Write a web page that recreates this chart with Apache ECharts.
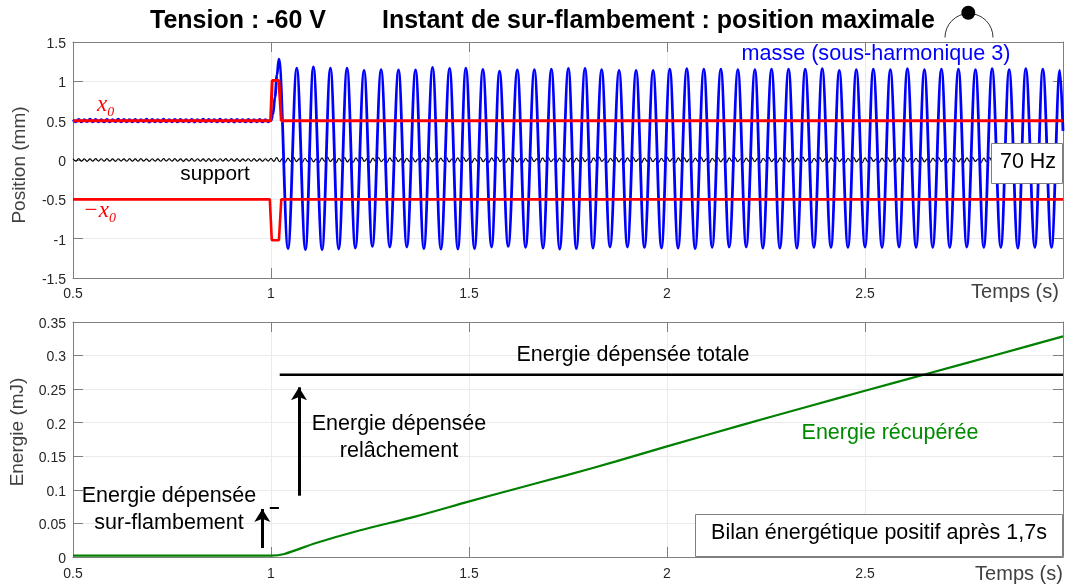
<!DOCTYPE html>
<html>
<head>
<meta charset="utf-8">
<style>html,body{margin:0;padding:0;background:#fff}#c{width:1065px;height:587px}</style>
<script src="https://cdn.jsdelivr.net/npm/echarts@6/dist/echarts.min.js"></script>
</head>
<body>
<div id="c"></div>
<script>
// ---- Tick ranges
const timeTicks = {min: 0.5, max: 3, interval: 0.5};
const posTicks = {min: -1.5, max: 1.5, interval: 0.5};
const energyTicks = {min: 0, max: 0.35, interval: 0.05};

// ---- Mass position : small ripple before the release
const rippleStart = 0.5, rippleStep = 1 / 140;
const rippleValues = [
 .512,.486,.516,.484,.514,.487,.518,.484,.515,.486,.513,.485,.517,.484,.514,.487,.519,.484,.515,.486,
 .512,.485,.516,.484,.514,.487,.518,.483,.515,.486,.513,.485,.519,.484,.514,.486,.517,.484,.515,.487,
 .512,.485,.516,.483,.514,.486,.518,.484,.515,.487,.513,.485,.519,.484,.514,.486,.516,.483,.515,.487,
 .512,.485,.517,.484,.514,.486,.516,.484,.513,.486];

// ---- Mass position : extrema after the release (time, value)
const peakTimes = [1.020,1.065,1.107,1.150,1.192,1.235,1.278,1.322,1.365,1.408,1.451,1.492,1.535,1.577,1.622,
 1.665,1.708,1.751,1.793,1.835,1.879,1.922,1.965,2.007,2.050,2.093,2.136,2.179,2.222,2.264,2.307,
 2.349,2.392,2.435,2.478,2.521,2.564,2.607,2.650,2.693,2.736,2.779,2.821,2.864,2.906,2.949,2.992];
const peakValues = [1.283,1.169,1.182,1.169,1.169,1.139,1.148,1.144,1.144,1.177,1.165,1.169,1.152,1.131,1.144,
 1.148,1.156,1.165,1.165,1.148,1.139,1.139,1.139,1.156,1.160,1.156,1.156,1.148,1.148,1.156,1.156,
 1.156,1.160,1.139,1.148,1.156,1.148,1.160,1.148,1.156,1.156,1.148,1.160,1.148,1.160,1.156,1.139];
const troughTimes = [1.043,1.087,1.129,1.171,1.213,1.256,1.300,1.343,1.386,1.429,1.472,1.514,1.557,1.599,1.643,
 1.687,1.729,1.771,1.813,1.856,1.900,1.943,1.986,2.028,2.071,2.114,2.157,2.200,2.242,2.285,2.328,
 2.371,2.414,2.457,2.500,2.543,2.586,2.629,2.671,2.714,2.757,2.800,2.843,2.886,2.929,2.971];
const troughValues = [-1.127,-1.140,-1.140,-1.132,-1.119,-1.098,-1.106,-1.106,-1.127,-1.132,-1.132,-1.127,-1.106,-1.098,-1.111,
 -1.119,-1.132,-1.127,-1.119,-1.106,-1.106,-1.111,-1.119,-1.119,-1.127,-1.111,-1.106,-1.106,-1.119,-1.119,-1.119,
 -1.111,-1.111,-1.111,-1.106,-1.111,-1.106,-1.111,-1.111,-1.111,-1.106,-1.111,-1.111,-1.119,-1.111,-1.111];
const riseTimes = [1.000,1.005,1.010,1.015];
const riseValues = [0.50,0.58,0.80,1.08];
const endTime = 3.0, endValue = 0.37;

// ---- Support position
const supportStep = 1 / 140;
const supportValues = [
 .016,-.014,.018,-.016,.015,-.017,.014,-.015,.017,-.014,.016,-.016,.018,-.015,.014,-.017,.016,-.014,.015,-.016,
 .017,-.015,.014,-.016,.018,-.014,.015,-.017,.016,-.015,.014,-.016,.017,-.014,.016,-.015,.018,-.016,.014,-.017,
 .015,-.014,.017,-.016,.016,-.015,.014,-.017,.018,-.014,.015,-.016,.016,-.015,.017,-.014,.014,-.016,.018,-.017,
 .015,-.014,.016,-.016,.017,-.015,.014,-.017,.016,-.015,
 .020,-.018,.030,-.022,.018,-.030,.024,-.018,.034,-.020,.018,-.032,.022,-.020,.032,-.024,.016,-.030,.026,-.018,
 .034,-.020,.018,-.034,.022,-.018,.030,-.024,.016,-.030,.026,-.020,.034,-.018,.020,-.034,.024,-.018,.030,-.022,
 .016,-.032,.026,-.018,.034,-.020,.018,-.034,.022,-.020,.032,-.024,.016,-.030,.024,-.018,.036,-.022,.018,-.032,
 .024,-.018,.030,-.024,.016,-.034,.026,-.020,.034,-.018,.020,-.034,.022,-.018,.032,-.022,.018,-.030,.026,-.018,
 .036,-.020,.016,-.032,.024,-.020,.030,-.024,.018,-.032,.022,-.018,.034,-.020,.018,-.034,.026,-.020,.030,-.022,
 .016,-.030,.024,-.018,.034,-.022,.020,-.032,.024,-.018,.032,-.022,.016,-.034,.026,-.020,.036,-.018,.018,-.032,
 .022,-.018,.030,-.024,.018,-.030,.026,-.020,.034,-.020,.016,-.034,.024,-.018,.032,-.022,.018,-.032,.022,-.020,
 .034,-.018,.020,-.032,.026,-.018,.030,-.024,.016,-.030,.024,-.020,.036,-.020,.018,-.034,.022,-.018,.032,-.024,
 .018,-.030,.026,-.018,.034,-.022,.016,-.032,.024,-.020,.030,-.022,.020,-.034,.022,-.018,.034,-.020,.018,-.030,
 .026,-.018,.032,-.024,.016,-.032,.024,-.020,.036,-.018,.020,-.034,.022,-.020,.030,-.022,.018,-.030,.026,-.018,
 .034,-.020,.018,-.032,.022,-.018,.030,-.024,.018,-.034,.026,-.020,.034,-.018,.016,-.030,.024,-.022,.032,-.020,
 .018,-.032,.026,-.018,.036,-.022,.018,-.030,.022,-.020,.034,-.024,.016,-.032,.024,-.018,.030,-.020,.020,-.034,
 .022,-.018,.032,-.024,.018,-.030,.026,-.020,.034,-.018,.016,-.034,.024,-.022,.030,-.018,.020,-.032,.026,-.020,
 .034,-.022,.018,-.030,.022,-.018,.032,-.024,.016,-.032,.026,-.020,.036,-.018,.018,-.034,.024,-.020,.030,-.022];

// ---- Red limits (+x0 and -x0)
const x0Times = [0.5,0.999,1.003,1.020,1.026,3.0];
const x0Values = [0.5,0.5,1.01,1.01,0.5,0.5];
const minusX0Times = [0.5,0.997,1.002,1.020,1.026,3.0];
const minusX0Values = [-0.5,-0.5,-1.02,-1.02,-0.5,-0.5];

// ---- Energy
const recoveredTimes = [0.5,1.0,1.0337,1.1136,1.2231,1.3662,1.5009,1.6187,1.745,1.8712,2.0,2.1835,2.3519,2.5,2.655,2.8233,3.0];
const recoveredValues = [0.002,0.002,0.0045,0.0208,0.0395,0.0605,0.0828,0.1017,0.1216,0.1424,0.1647,0.1956,0.2234,0.2477,0.2725,0.2998,0.3286];
const totalTimes = [1.022,3.0];
const totalValues = [0.2715,0.2715];
const bigArrow = {t: 1.0707, from: 0.0913, to: 0.2527};
const smallArrow = {t: 0.978, from: 0.0134, to: 0.0715};
const levelDash = {from: 0.997, to: 1.02, y: 0.0734};

// ---- Build series data from the arrays
const zip = (a, b) => a.map((v, i) => [v, b[i]]);
const massData = [];
rippleValues.forEach((v, i) => massData.push([rippleStart + i * rippleStep, v]));
massData.push([0.997, 0.5]);
riseTimes.forEach((t, i) => massData.push([t, riseValues[i]]));
const extrema = zip(peakTimes, peakValues).concat(zip(troughTimes, troughValues)).sort((a, b) => a[0] - b[0]);
extrema.forEach(p => massData.push(p));
massData.push([endTime, endValue]);
const supportData = supportValues.map((v, i) => [0.5 + i * supportStep, v]);

const FONT = '"Liberation Sans", Arial, sans-serif';
const INK = '#262626', FRAME = '#7f7f7f', GRID = '#ebebeb';

function xAx(gridIndex, margin) {
  return [{
    type: 'value', gridIndex, ...timeTicks, position: 'bottom',
    axisLine: {show: true, onZero: false, lineStyle: {color: FRAME, width: 1}},
    axisTick: {show: true, inside: true, length: 10, lineStyle: {color: FRAME}},
    axisLabel: {color: INK, fontSize: 14, fontFamily: FONT, margin, hideOverlap: false, showMinLabel: true, showMaxLabel: false},
    splitLine: {show: true, lineStyle: {color: GRID, width: 1}}
  }, {
    type: 'value', gridIndex, ...timeTicks, position: 'top',
    axisLine: {show: true, onZero: false, lineStyle: {color: FRAME, width: 1}},
    axisTick: {show: true, inside: true, length: 10, lineStyle: {color: FRAME}},
    axisLabel: {show: false}, splitLine: {show: false}
  }];
}
function yAx(gridIndex, ticks, name, nameGap, namePad) {
  return [{
    type: 'value', gridIndex, ...ticks, position: 'left', name, nameLocation: 'middle', nameGap,
    nameTextStyle: {color: '#404040', fontSize: 19, fontFamily: FONT, padding: namePad},
    axisLine: {show: true, onZero: false, lineStyle: {color: FRAME, width: 1}},
    axisTick: {show: true, inside: true, length: 10, lineStyle: {color: FRAME}},
    axisLabel: {color: INK, fontSize: 14, fontFamily: FONT, margin: 7, verticalAlign: 'top', lineHeight: 4, showMinLabel: true, showMaxLabel: true},
    splitLine: {show: true, lineStyle: {color: GRID, width: 1}}
  }, {
    type: 'value', gridIndex, ...ticks, position: 'right',
    axisLine: {show: true, onZero: false, lineStyle: {color: FRAME, width: 1}},
    axisTick: {show: true, inside: true, length: 10, lineStyle: {color: FRAME}},
    axisLabel: {show: false}, splitLine: {show: false}
  }];
}
const line = (name, data, color, width, xi, yi, extra) => Object.assign({
  type: 'line', name, data, xAxisIndex: xi, yAxisIndex: yi, showSymbol: false, symbol: 'none',
  lineStyle: {color, width}, itemStyle: {color}, silent: true, clip: true, animation: false
}, extra || {});
const txt = (text, x, y, size, color, extra) => ({
  type: 'text', x, y, z: 50,
  style: Object.assign({text, fontSize: size, fontFamily: FONT, fill: color, textAlign: 'center', textVerticalAlign: 'middle'}, extra || {})
});
const arrowLine = (a) => ({
  symbol: ['none', 'arrow'], symbolSize: [12, 13], silent: true, animation: false, label: {show: false},
  lineStyle: {color: '#000', width: 3, type: 'solid'},
  data: [[{coord: [a.t, a.from]}, {coord: [a.t, a.to]}]]
});

const chart = echarts.init(document.getElementById('c'), null, {renderer: 'canvas'});
chart.setOption({
  animation: false,
  backgroundColor: '#fff',
  title: [
    {text: 'Tension : -60 V', left: 145, top: 4, textStyle: {fontFamily: FONT, fontSize: 25, fontWeight: 'bold', color: '#000'}},
    {text: 'Instant de sur-flambement : position maximale', left: 377, top: 4, textStyle: {fontFamily: FONT, fontSize: 25, fontWeight: 'bold', color: '#000'}}
  ],
  grid: [
    {left: 73, top: 42, width: 990, height: 236},
    {left: 73, top: 322, width: 990, height: 235}
  ],
  xAxis: [...xAx(0, 9), ...xAx(1, 10)],
  yAxis: [...yAx(0, posTicks, 'Position (mm)', 44, [0, 10, 0, 0]), ...yAx(1, energyTicks, 'Energie (mJ)', 46, [0, 0, 0, 15])],
  series: [
    line('support', supportData, '#000000', 1.2, 0, 0, {smooth: 0.4, z: 2}),
    line('masse', massData, '#0000ff', 2.8, 0, 0, {smooth: 0.36, smoothMonotone: 'x', z: 3}),
    line('x0', zip(x0Times, x0Values), '#ff0000', 3, 0, 0, {z: 4}),
    line('-x0', zip(minusX0Times, minusX0Values), '#ff0000', 2.6, 0, 0, {z: 4}),
    line('Energie récupérée', zip(recoveredTimes, recoveredValues), '#008000', 2.2, 2, 2, {z: 3, smooth: 0.3}),
    line('Energie dépensée totale', zip(totalTimes, totalValues), '#000000', 2.4, 2, 2, {z: 3}),
    {type: 'line', xAxisIndex: 2, yAxisIndex: 2, data: [], markLine: arrowLine(bigArrow)},
    {type: 'line', xAxisIndex: 2, yAxisIndex: 2, data: [], markLine: arrowLine(smallArrow)},
    {type: 'line', xAxisIndex: 2, yAxisIndex: 2, data: [], markLine: {
      symbol: 'none', silent: true, animation: false, label: {show: false},
      lineStyle: {color: '#000', width: 2, type: 'solid'},
      data: [[{coord: [levelDash.from, levelDash.y]}, {coord: [levelDash.to, levelDash.y]}]]
    }}
  ],
  graphic: [
    // pictogram next to the title
    {type: 'arc', z: 50, shape: {cx: 969, cy: 37.5, r: 24, startAngle: Math.PI, endAngle: 2 * Math.PI}, style: {stroke: '#333', lineWidth: 1, fill: null}},
    {type: 'circle', z: 51, shape: {cx: 968.3, cy: 12.7, r: 7}, style: {fill: '#000'}},
    // axis end labels
    txt('Temps (s)', 1015, 292, 20, '#404040'),
    txt('Temps (s)', 1019, 574, 20, '#404040'),
    // top panel labels
    txt('masse (sous-harmonique 3)', 876, 54, 21.6, '#0000ff'),
    txt('support', 215, 174, 20.8, '#000'),
    txt('x₀', 106, 105, 23, '#ff0000', {fontFamily: '"Liberation Serif", serif', fontStyle: 'italic'}),
    txt('−x₀', 100, 211, 23, '#ff0000', {fontFamily: '"Liberation Serif", serif', fontStyle: 'italic'}),
    {type: 'rect', z: 50, shape: {x: 991.5, y: 143.5, width: 71, height: 40}, style: {fill: '#fff', stroke: '#7f7f7f', lineWidth: 1}},
    txt('70 Hz', 1028, 162, 21.5, '#000', {}),
    // bottom panel labels
    txt('Energie dépensée totale', 633, 355, 21.5, '#000'),
    txt('Energie dépensée', 399, 424, 21.5, '#000'),
    txt('relâchement', 399, 451, 21.5, '#000'),
    txt('Energie dépensée', 169, 496, 21.5, '#000'),
    txt('sur-flambement', 169, 523, 21.5, '#000'),
    txt('Energie récupérée', 890, 433, 21.5, '#008a00'),
    {type: 'rect', z: 50, shape: {x: 695.5, y: 514.5, width: 367, height: 42}, style: {fill: '#fff', stroke: '#7f7f7f', lineWidth: 1}},
    txt('Bilan énergétique positif après 1,7s', 879, 533, 21.5, '#000')
  ]
});
</script>
</body>
</html>
